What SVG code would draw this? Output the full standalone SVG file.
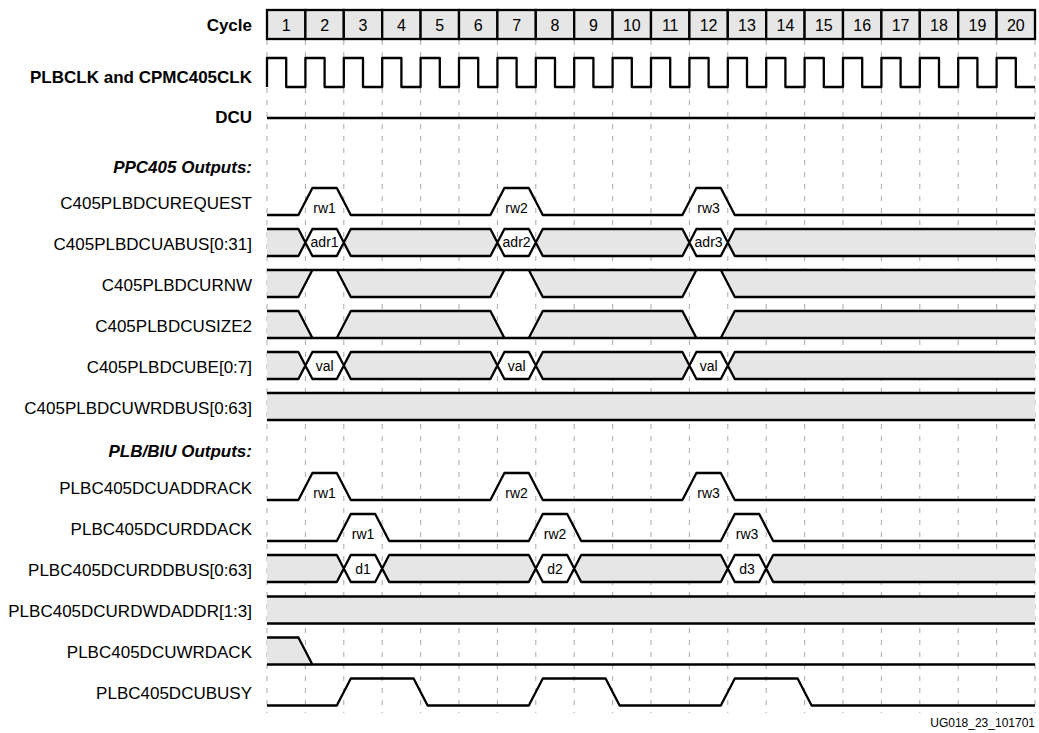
<svg xmlns="http://www.w3.org/2000/svg" width="1039" height="733" viewBox="0 0 1039 733">
<style>
.lbl{font-family:"Liberation Sans",Arial,sans-serif;font-size:17px;fill:#000;text-anchor:end}
.b{font-weight:bold}
.bi{font-weight:bold;font-style:italic}
.num{font-family:"Liberation Sans",Arial,sans-serif;font-size:16px;fill:#000;text-anchor:middle}
.pl{font-family:"Liberation Sans",Arial,sans-serif;font-size:14px;fill:#000;text-anchor:middle}
.w{fill:none;stroke:#000;stroke-width:2.3;stroke-linejoin:round;stroke-linecap:butt}
.g{fill:#e6e6e6;stroke:none}
.grid line{stroke:#a8a8a8;stroke-width:1;stroke-dasharray:5 7}
.box{fill:#e6e6e6;stroke:#000;stroke-width:2.3}
</style>
<rect width="1039" height="733" fill="#fff"/>
<g id="gridlines" class="grid">
<line x1="267" y1="40" x2="267" y2="713"/><line x1="305.4" y1="40" x2="305.4" y2="713"/><line x1="343.8" y1="40" x2="343.8" y2="713"/><line x1="382.2" y1="40" x2="382.2" y2="713"/><line x1="420.6" y1="40" x2="420.6" y2="713"/><line x1="459" y1="40" x2="459" y2="713"/><line x1="497.4" y1="40" x2="497.4" y2="713"/><line x1="535.8" y1="40" x2="535.8" y2="713"/><line x1="574.2" y1="40" x2="574.2" y2="713"/><line x1="612.6" y1="40" x2="612.6" y2="713"/><line x1="651" y1="40" x2="651" y2="713"/><line x1="689.4" y1="40" x2="689.4" y2="713"/><line x1="727.8" y1="40" x2="727.8" y2="713"/><line x1="766.2" y1="40" x2="766.2" y2="713"/><line x1="804.6" y1="40" x2="804.6" y2="713"/><line x1="843" y1="40" x2="843" y2="713"/><line x1="881.4" y1="40" x2="881.4" y2="713"/><line x1="919.8" y1="40" x2="919.8" y2="713"/><line x1="958.2" y1="40" x2="958.2" y2="713"/><line x1="996.6" y1="40" x2="996.6" y2="713"/><line x1="1035" y1="40" x2="1035" y2="713"/>
</g>
<g id="cycle">
<text class="lbl b" x="252" y="31">Cycle</text>
<rect class="box" x="267" y="10" width="38.4" height="29"/><rect class="box" x="305.4" y="10" width="38.4" height="29"/><rect class="box" x="343.8" y="10" width="38.4" height="29"/><rect class="box" x="382.2" y="10" width="38.4" height="29"/><rect class="box" x="420.6" y="10" width="38.4" height="29"/><rect class="box" x="459" y="10" width="38.4" height="29"/><rect class="box" x="497.4" y="10" width="38.4" height="29"/><rect class="box" x="535.8" y="10" width="38.4" height="29"/><rect class="box" x="574.2" y="10" width="38.4" height="29"/><rect class="box" x="612.6" y="10" width="38.4" height="29"/><rect class="box" x="651" y="10" width="38.4" height="29"/><rect class="box" x="689.4" y="10" width="38.4" height="29"/><rect class="box" x="727.8" y="10" width="38.4" height="29"/><rect class="box" x="766.2" y="10" width="38.4" height="29"/><rect class="box" x="804.6" y="10" width="38.4" height="29"/><rect class="box" x="843" y="10" width="38.4" height="29"/><rect class="box" x="881.4" y="10" width="38.4" height="29"/><rect class="box" x="919.8" y="10" width="38.4" height="29"/><rect class="box" x="958.2" y="10" width="38.4" height="29"/><rect class="box" x="996.6" y="10" width="38.4" height="29"/>
<text class="num" x="286.2" y="31">1</text><text class="num" x="324.6" y="31">2</text><text class="num" x="363" y="31">3</text><text class="num" x="401.4" y="31">4</text><text class="num" x="439.8" y="31">5</text><text class="num" x="478.2" y="31">6</text><text class="num" x="516.6" y="31">7</text><text class="num" x="555" y="31">8</text><text class="num" x="593.4" y="31">9</text><text class="num" x="631.8" y="31">10</text><text class="num" x="670.2" y="31">11</text><text class="num" x="708.6" y="31">12</text><text class="num" x="747" y="31">13</text><text class="num" x="785.4" y="31">14</text><text class="num" x="823.8" y="31">15</text><text class="num" x="862.2" y="31">16</text><text class="num" x="900.6" y="31">17</text><text class="num" x="939" y="31">18</text><text class="num" x="977.4" y="31">19</text><text class="num" x="1015.8" y="31">20</text>
</g>
<g id="clk">
<text class="lbl b" x="252" y="83">PLBCLK and CPMC405CLK</text>
<path class="w" d="M267,87 V58 H286.2 V87 H305.4 V58 H324.6 V87 H343.8 V58 H363 V87 H382.2 V58 H401.4 V87 H420.6 V58 H439.8 V87 H459 V58 H478.2 V87 H497.4 V58 H516.6 V87 H535.8 V58 H555 V87 H574.2 V58 H593.4 V87 H612.6 V58 H631.8 V87 H651 V58 H670.2 V87 H689.4 V58 H708.6 V87 H727.8 V58 H747 V87 H766.2 V58 H785.4 V87 H804.6 V58 H823.8 V87 H843 V58 H862.2 V87 H881.4 V58 H900.6 V87 H919.8 V58 H939 V87 H958.2 V58 H977.4 V87 H996.6 V58 H1015.8 V87 H1035"/>
</g>
<g id="dcu">
<text class="lbl b" x="252" y="123">DCU</text>
<path class="w" d="M267,118 H1035"/>
</g>
<g id="ppc-header"><text class="lbl bi" x="252" y="173">PPC405 Outputs:</text></g>
<g id="req">
<text class="lbl" x="252" y="208.5">C405PLBDCUREQUEST</text>
<path class="w" d="M267,215 H298.4 L312.4,188 H336.8 L350.8,215 H490.4 L504.4,188 H528.8 L542.8,215 H682.4 L696.4,188 H720.8 L734.8,215 H1035"/>
<text class="pl" x="324.6" y="213">rw1</text><text class="pl" x="516.6" y="213">rw2</text><text class="pl" x="708.6" y="213">rw3</text>
</g>
<g id="abus">
<text class="lbl" x="252" y="249.5">C405PLBDCUABUS[0:31]</text>
<path class="g" d="M267,229 H298.4 L305.4,242.5 L298.4,256 H267 Z M343.8,242.5 L350.8,229 H490.4 L497.4,242.5 L490.4,256 H350.8 Z M535.8,242.5 L542.8,229 H682.4 L689.4,242.5 L682.4,256 H542.8 Z M727.8,242.5 L734.8,229 H1035 V256 H734.8 Z"/>
<path class="w" d="M267,229 H298.4 L312.4,256 H336.8 L350.8,229 H490.4 L504.4,256 H528.8 L542.8,229 H682.4 L696.4,256 H720.8 L734.8,229 H1035 M267,256 H298.4 L312.4,229 H336.8 L350.8,256 H490.4 L504.4,229 H528.8 L542.8,256 H682.4 L696.4,229 H720.8 L734.8,256 H1035"/>
<text class="pl" x="324.6" y="247">adr1</text><text class="pl" x="516.6" y="247">adr2</text><text class="pl" x="708.6" y="247">adr3</text>
</g>
<g id="rnw">
<text class="lbl" x="252" y="290.5">C405PLBDCURNW</text>
<path class="g" d="M267,270 H1035 V297 H734.8 L720.8,270 H696.4 L682.4,297 H542.8 L528.8,270 H504.4 L490.4,297 H350.8 L336.8,270 H312.4 L298.4,297 H267 Z"/>
<path class="w" d="M267,270 H1035 M267,297 H298.4 L312.4,270 M336.8,270 L350.8,297 H490.4 L504.4,270 M528.8,270 L542.8,297 H682.4 L696.4,270 M720.8,270 L734.8,297 H1035"/>
</g>
<g id="size2">
<text class="lbl" x="252" y="331.5">C405PLBDCUSIZE2</text>
<path class="g" d="M267,311 H298.4 L312.4,338 H336.8 L350.8,311 H490.4 L504.4,338 H528.8 L542.8,311 H682.4 L696.4,338 H720.8 L734.8,311 H1035 V338 H267 Z"/>
<path class="w" d="M267,338 H1035 M267,311 H298.4 L312.4,338 M336.8,338 L350.8,311 H490.4 L504.4,338 M528.8,338 L542.8,311 H682.4 L696.4,338 M720.8,338 L734.8,311 H1035"/>
</g>
<g id="be">
<text class="lbl" x="252" y="372.5">C405PLBDCUBE[0:7]</text>
<path class="g" d="M267,352 H298.4 L305.4,365.5 L298.4,379 H267 Z M343.8,365.5 L350.8,352 H490.4 L497.4,365.5 L490.4,379 H350.8 Z M535.8,365.5 L542.8,352 H682.4 L689.4,365.5 L682.4,379 H542.8 Z M727.8,365.5 L734.8,352 H1035 V379 H734.8 Z"/>
<path class="w" d="M267,352 H298.4 L312.4,379 H336.8 L350.8,352 H490.4 L504.4,379 H528.8 L542.8,352 H682.4 L696.4,379 H720.8 L734.8,352 H1035 M267,379 H298.4 L312.4,352 H336.8 L350.8,379 H490.4 L504.4,352 H528.8 L542.8,379 H682.4 L696.4,352 H720.8 L734.8,379 H1035"/>
<text class="pl" x="324.6" y="371">val</text><text class="pl" x="516.6" y="371">val</text><text class="pl" x="708.6" y="371">val</text>
</g>
<g id="wrdbus">
<text class="lbl" x="252" y="413.5">C405PLBDCUWRDBUS[0:63]</text>
<rect class="g" x="267" y="393" width="768" height="27"/>
<path class="w" d="M267,393 H1035 M267,420 H1035"/>
</g>
<g id="plb-header"><text class="lbl bi" x="252" y="457">PLB/BIU Outputs:</text></g>
<g id="addrack">
<text class="lbl" x="252" y="493.5">PLBC405DCUADDRACK</text>
<path class="w" d="M267,500 H298.4 L312.4,473 H336.8 L350.8,500 H490.4 L504.4,473 H528.8 L542.8,500 H682.4 L696.4,473 H720.8 L734.8,500 H1035"/>
<text class="pl" x="324.6" y="498">rw1</text><text class="pl" x="516.6" y="498">rw2</text><text class="pl" x="708.6" y="498">rw3</text>
</g>
<g id="rddack">
<text class="lbl" x="252" y="534.5">PLBC405DCURDDACK</text>
<path class="w" d="M267,541 H336.8 L350.8,514 H375.2 L389.2,541 H528.8 L542.8,514 H567.2 L581.2,541 H720.8 L734.8,514 H759.2 L773.2,541 H1035"/>
<text class="pl" x="363" y="539">rw1</text><text class="pl" x="555" y="539">rw2</text><text class="pl" x="747" y="539">rw3</text>
</g>
<g id="rddbus">
<text class="lbl" x="252" y="575.5">PLBC405DCURDDBUS[0:63]</text>
<path class="g" d="M267,555 H336.8 L343.8,568.5 L336.8,582 H267 Z M382.2,568.5 L389.2,555 H528.8 L535.8,568.5 L528.8,582 H389.2 Z M574.2,568.5 L581.2,555 H720.8 L727.8,568.5 L720.8,582 H581.2 Z M766.2,568.5 L773.2,555 H1035 V582 H773.2 Z"/>
<path class="w" d="M267,555 H336.8 L350.8,582 H375.2 L389.2,555 H528.8 L542.8,582 H567.2 L581.2,555 H720.8 L734.8,582 H759.2 L773.2,555 H1035 M267,582 H336.8 L350.8,555 H375.2 L389.2,582 H528.8 L542.8,555 H567.2 L581.2,582 H720.8 L734.8,555 H759.2 L773.2,582 H1035"/>
<text class="pl" x="363" y="574">d1</text><text class="pl" x="555" y="574">d2</text><text class="pl" x="747" y="574">d3</text>
</g>
<g id="rdwdaddr">
<text class="lbl" x="252" y="617">PLBC405DCURDWDADDR[1:3]</text>
<rect class="g" x="267" y="596.5" width="768" height="27"/>
<path class="w" d="M267,596.5 H1035 M267,623.5 H1035"/>
</g>
<g id="wrdack">
<text class="lbl" x="252" y="658">PLBC405DCUWRDACK</text>
<path class="g" d="M267,637.5 H298.4 L312.4,664.5 H267 Z"/>
<path class="w" d="M267,637.5 H298.4 L312.4,664.5 M267,664.5 H1035"/>
</g>
<g id="busy">
<text class="lbl" x="252" y="699">PLBC405DCUBUSY</text>
<path class="w" d="M267,705.5 H336.8 L350.8,678.5 H413.6 L427.6,705.5 H528.8 L542.8,678.5 H605.6 L619.6,705.5 H720.8 L734.8,678.5 H797.6 L811.6,705.5 H1035"/>
</g>
<text x="1035" y="727" font-family="Liberation Sans, Arial, sans-serif" font-size="12" text-anchor="end">UG018_23_101701</text>
</svg>
